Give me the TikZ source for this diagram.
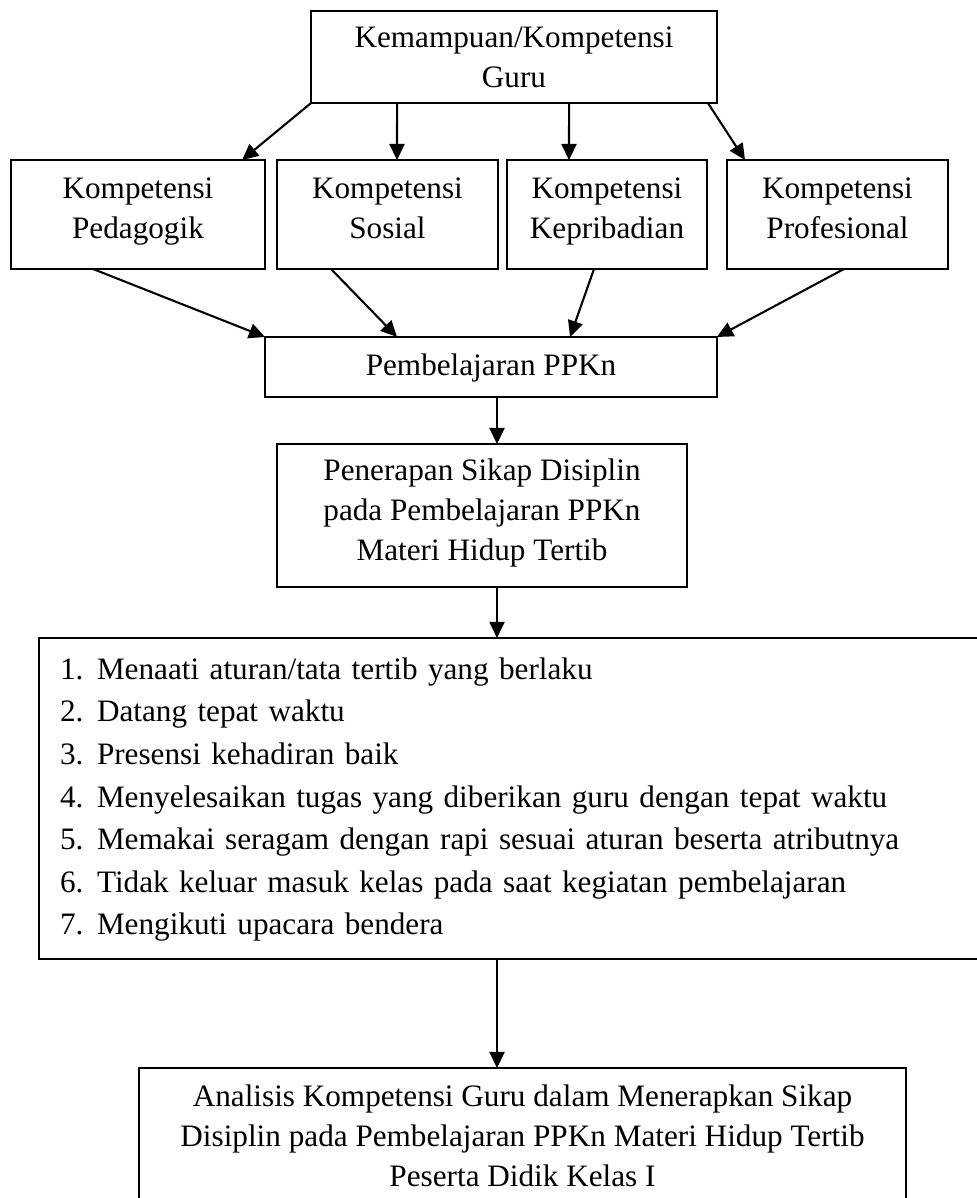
\documentclass[tikz,border=0pt]{standalone}
\usepackage{fontspec}
\setmainfont{Liberation Serif}
\usetikzlibrary{arrows.meta,calc}

\tikzset{
  kotak/.style={draw, line width=0.8pt, align=center, inner sep=2pt, outer sep=0pt,
    font=\fontsize{12}{15.4}\selectfont,
    execute at begin node=\strut, execute at end node=\strut},
  panah/.style={line width=0.8pt, -{Triangle[length=6.2pt,width=5.8pt]}}
}

\begin{document}
\begin{tikzpicture}[x=0.3846pt, y=-0.3846pt]
  \path[use as bounding box] (0,0) rectangle (977,1198);
  \clip (0,0) rectangle (977,1198);

  % kemampuan guru
  \node[kotak, text depth=0pt, minimum width=156.1pt, minimum height=35.4pt] (guru) at (514,57)
    {Kemampuan/Kompetensi\\Guru};

  % empat kompetensi
  \node[kotak, minimum width=97.7pt, minimum height=41.9pt] (pedagogik) at (138,214.5)
    {Kompetensi\\Pedagogik};
  \node[kotak, minimum width=85pt, minimum height=41.9pt] (sosial) at (387.5,214.5)
    {Kompetensi\\Sosial};
  \node[kotak, minimum width=76.9pt, minimum height=41.9pt] (kepribadian) at (607,214.5)
    {Kompetensi\\Kepribadian};
  \node[kotak, minimum width=85pt, minimum height=41.9pt] (profesional) at (837.5,214.5)
    {Kompetensi\\Profesional};

  % pembelajaran
  \node[kotak, minimum width=173.8pt, minimum height=23.1pt] (ppkn) at (491,367)
    {Pembelajaran PPKn};
  \node[kotak, minimum width=157.7pt, minimum height=55pt] (penerapan) at (482,515.5)
    {Penerapan Sikap Disiplin\\pada Pembelajaran PPKn\\Materi Hidup Tertib};

  % indikator disiplin
  \node[kotak, align=left, inner xsep=8.1pt, text width=347.6pt, minimum height=123.5pt,
    font=\fontsize{12}{16.35}\selectfont] (indikator) at (512,798.5)
    {\makebox[14.2pt][l]{1.}Menaati aturan/tata tertib yang berlaku\\
     \makebox[14.2pt][l]{2.}Datang tepat waktu\\
     \makebox[14.2pt][l]{3.}Presensi kehadiran baik\\
     \makebox[14.2pt][l]{4.}Menyelesaikan tugas yang diberikan guru dengan tepat waktu\\
     \makebox[14.2pt][l]{5.}Memakai seragam dengan rapi sesuai aturan beserta atributnya\\
     \makebox[14.2pt][l]{6.}Tidak keluar masuk kelas pada saat kegiatan pembelajaran\\
     \makebox[14.2pt][l]{7.}Mengikuti upacara bendera};

  % analisis (bagian bawah terpotong)
  \node[kotak, anchor=north, inner ysep=6.6pt, text depth=25pt, minimum width=295pt]
    (analisis) at (522.5,1068)
    {Analisis Kompetensi Guru dalam Menerapkan Sikap\\
     Disiplin pada Pembelajaran PPKn Materi Hidup Tertib\\
     Peserta Didik Kelas I};

  % panah
  \draw[panah] (guru.south west) -- ($(pedagogik.north east)+(-23,0)$);
  \draw[panah] ($(guru.south west)+(86,0)$) -- ($(sosial.north)+(9.5,0)$);
  \draw[panah] ($(guru.south west)+(258,0)$) -- ($(kepribadian.north)+(-38,0)$);
  \draw[panah] ($(guru.south east)+(-9,0)$) -- ($(profesional.north west)+(18,0)$);

  \draw[panah] ($(pedagogik.south west)+(82,0)$) -- (ppkn.north west);
  \draw[panah] ($(sosial.south west)+(54,0)$) -- ($(ppkn.north west)+(132,0)$);
  \draw[panah] ($(kepribadian.south west)+(87,0)$) -- ($(ppkn.north west)+(305,0)$);
  \draw[panah] ($(profesional.south west)+(117,0)$) -- (ppkn.north east);

  \draw[panah] ($(ppkn.south)+(6,0)$) -- ($(penerapan.north)+(15,0)$);
  \draw[panah] ($(penerapan.south)+(15,0)$) -- ($(indikator.north)+(-15,0)$);
  \draw[panah] ($(indikator.south)+(-15,0)$) -- ($(analisis.north)+(-25.5,0)$);
\end{tikzpicture}
\end{document}
